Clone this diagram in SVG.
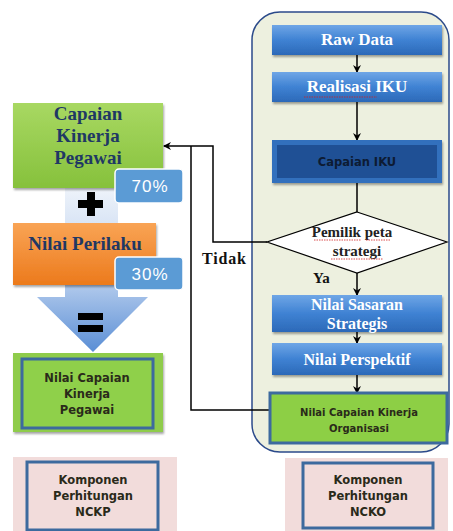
<svg xmlns="http://www.w3.org/2000/svg" width="453" height="531" viewBox="0 0 453 531">
<defs>
  <linearGradient id="gBlue" x1="0" y1="0" x2="0" y2="1">
    <stop offset="0" stop-color="#6fa6e6"/>
    <stop offset="0.5" stop-color="#3f82d3"/>
    <stop offset="1" stop-color="#2c69b8"/>
  </linearGradient>
  <linearGradient id="gGreen" x1="0" y1="0" x2="0" y2="1">
    <stop offset="0" stop-color="#a8d862"/>
    <stop offset="1" stop-color="#86c13c"/>
  </linearGradient>
  <linearGradient id="gOrange" x1="0" y1="0" x2="0" y2="1">
    <stop offset="0" stop-color="#f9a455"/>
    <stop offset="1" stop-color="#ec7a1c"/>
  </linearGradient>
  <linearGradient id="gArrow" x1="0" y1="0" x2="0" y2="1">
    <stop offset="0" stop-color="#eef3fa"/>
    <stop offset="0.55" stop-color="#b9cfee"/>
    <stop offset="1" stop-color="#5a8ed5"/>
  </linearGradient>
  <filter id="sh" x="-10%" y="-10%" width="130%" height="140%">
    <feDropShadow dx="1" dy="2" stdDeviation="1.2" flood-color="#000" flood-opacity="0.35"/>
  </filter>
  <marker id="ah" markerWidth="8" markerHeight="8" refX="7" refY="4" orient="auto" markerUnits="userSpaceOnUse">
    <path d="M0,0 L8,4 L0,8 L2.5,4 z" fill="#000"/>
  </marker>
  <style>
    .ser{font-family:"Liberation Serif","DejaVu Serif",serif;font-weight:bold;text-anchor:middle}
    .wt{fill:#ffffff}
    .dk{fill:#1f3864}
    .sans{font-family:"DejaVu Sans","Liberation Sans",sans-serif;font-weight:bold;text-anchor:middle;fill:#2a2a1a}
    .blue{fill:url(#gBlue);filter:url(#sh)}
    .line{fill:none;stroke:#000;stroke-width:1.5}
    .badge{fill:#5b9bd5;stroke:#ffffff;stroke-width:1.5}
    .btxt{font-family:"Liberation Sans",Arial,sans-serif;font-size:17px;fill:#ffffff;text-anchor:middle;letter-spacing:1px}
    .frame{stroke:#3d6a9e;stroke-width:3}
    .spell{fill:none;stroke:#d02020;stroke-width:0.8;stroke-dasharray:1.5 1}
  </style>
</defs>

<!-- Right panel -->
<g id="panel">
  <rect x="252" y="12" width="197" height="440" rx="28" fill="#edf0df" stroke="#2b4a8a" stroke-width="1.5"/>
</g>

<!-- Left big arrow -->
<g id="bigArrow">
  <polygon points="65,188 118,188 118,297 148,297 93,352 37,297 65,297" fill="url(#gArrow)"/>
  <g id="plus" fill="#000">
    <rect x="78" y="200" width="25" height="8"/>
    <rect x="87" y="192" width="8" height="24"/>
  </g>
  <g id="equals" fill="#000">
    <rect x="78" y="313" width="25" height="7"/>
    <rect x="78" y="325" width="25" height="7"/>
  </g>
</g>

<!-- Connectors -->
<g id="connectors">
  <line class="line" x1="357" y1="55" x2="357" y2="72" marker-end="url(#ah)"/>
  <line class="line" x1="357" y1="102" x2="357" y2="140" marker-end="url(#ah)"/>
  <line class="line" x1="357" y1="183" x2="357" y2="212"/>
  <line class="line" x1="357" y1="273" x2="357" y2="295" marker-end="url(#ah)"/>
  <line class="line" x1="357" y1="332" x2="357" y2="343" marker-end="url(#ah)"/>
  <line class="line" x1="357" y1="375" x2="357" y2="393" marker-end="url(#ah)"/>
  <polyline class="line" points="267,242 213,242 213,146 164,146" marker-end="url(#ah)"/>
  <polyline class="line" points="270,410 191,410 191,146"/>
  <text x="202" y="264" font-family="Liberation Serif, serif" font-weight="bold" font-size="16" fill="#111" letter-spacing="0.8">Tidak</text>
  <text x="313" y="283" font-family="Liberation Serif, serif" font-weight="bold" font-size="15" fill="#111">Ya</text>
</g>

<!-- Left column nodes -->
<g id="capaianKinerjaPegawai">
  <rect x="13" y="103" width="150" height="85" fill="url(#gGreen)" filter="url(#sh)"/>
  <text class="ser dk" x="88" y="120" font-size="19">Capaian</text>
  <text class="ser dk" x="88" y="142" font-size="19">Kinerja</text>
  <text class="ser dk" x="88" y="164" font-size="19">Pegawai</text>
</g>
<g id="badge70">
  <rect class="badge" x="115" y="169" width="68" height="34" rx="4"/>
  <text class="btxt" x="150" y="192">70%</text>
</g>
<g id="nilaiPerilaku">
  <rect x="13" y="223" width="143" height="62" fill="url(#gOrange)" filter="url(#sh)"/>
  <text class="ser dk" x="85" y="250" font-size="19">Nilai Perilaku</text>
</g>
<g id="badge30">
  <rect class="badge" x="115" y="257" width="68" height="33" rx="4"/>
  <text class="btxt" x="150" y="280">30%</text>
</g>
<g id="nilaiCapaianKinerjaPegawai">
  <rect x="13" y="353" width="150" height="79" fill="#8fcc4c" filter="url(#sh)"/>
  <rect class="frame" x="22" y="359" width="131" height="69" fill="#8fd04a"/>
  <text class="sans" x="87" y="382" font-size="11.5">Nilai Capaian</text>
  <text class="sans" x="87" y="398" font-size="11.5">Kinerja</text>
  <text class="sans" x="87" y="414" font-size="11.5">Pegawai</text>
</g>
<g id="nckp">
  <rect x="13" y="457" width="164" height="74" fill="#f2dcdb"/>
  <rect class="frame" x="27" y="462" width="131" height="68" fill="#f2dcdb"/>
  <text class="sans" x="93" y="484" font-size="11.5">Komponen</text>
  <text class="sans" x="93" y="500" font-size="11.5">Perhitungan</text>
  <text class="sans" x="93" y="516" font-size="11.5">NCKP</text>
</g>

<!-- Right column nodes -->
<g id="rawData">
  <rect class="blue" x="272" y="25" width="170" height="30"/>
  <text class="ser wt" x="357" y="45" font-size="17">Raw Data</text>
</g>
<g id="realisasiIKU">
  <rect class="blue" x="272" y="72" width="170" height="30"/>
  <text class="ser wt" x="357" y="92" font-size="17">Realisasi IKU</text>
  <path class="spell" d="M304,97 L377,97"/>
</g>
<g id="capaianIKU">
  <rect x="272" y="140" width="170" height="43" fill="#3370bd" filter="url(#sh)"/>
  <rect x="277" y="145" width="160" height="33" fill="#1f5095"/>
  <text class="sans" x="357" y="166" font-size="11.5" fill="#0d1b33" style="fill:#0d1b33">Capaian IKU</text>
</g>
<g id="pemilikPeta">
  <polygon points="357,212 447,242 357,273 267,242" fill="#ffffff" stroke="#000" stroke-width="1.2"/>
  <text class="ser" x="352" y="237" font-size="15" fill="#222">Pemilik peta</text>
  <text class="ser" x="357" y="256" font-size="15" fill="#222">strategi</text>
  <path class="spell" d="M314,240 L361,240 M366,240 L390,240 M331,259 L383,259"/>
</g>
<g id="nilaiSasaran">
  <rect class="blue" x="272" y="295" width="170" height="37"/>
  <text class="ser wt" x="357" y="310" font-size="16">Nilai Sasaran</text>
  <text class="ser wt" x="357" y="329" font-size="16">Strategis</text>
</g>
<g id="nilaiPerspektif">
  <rect class="blue" x="272" y="343" width="170" height="32"/>
  <text class="ser wt" x="357" y="365" font-size="16">Nilai Perspektif</text>
</g>
<g id="nilaiCapaianKinerjaOrganisasi">
  <rect class="frame" x="270" y="393" width="177" height="50" fill="#8dcf45"/>
  <text class="sans" x="359" y="416" font-size="10">Nilai Capaian Kinerja</text>
  <text class="sans" x="359" y="432" font-size="10">Organisasi</text>
</g>
<g id="ncko">
  <rect x="285" y="458" width="163" height="73" fill="#f2dcdb"/>
  <rect class="frame" x="303" y="463" width="130" height="65" fill="#f2dcdb"/>
  <text class="sans" x="368" y="484" font-size="11.5">Komponen</text>
  <text class="sans" x="368" y="500" font-size="11.5">Perhitungan</text>
  <text class="sans" x="368" y="516" font-size="11.5">NCKO</text>
</g>
</svg>
